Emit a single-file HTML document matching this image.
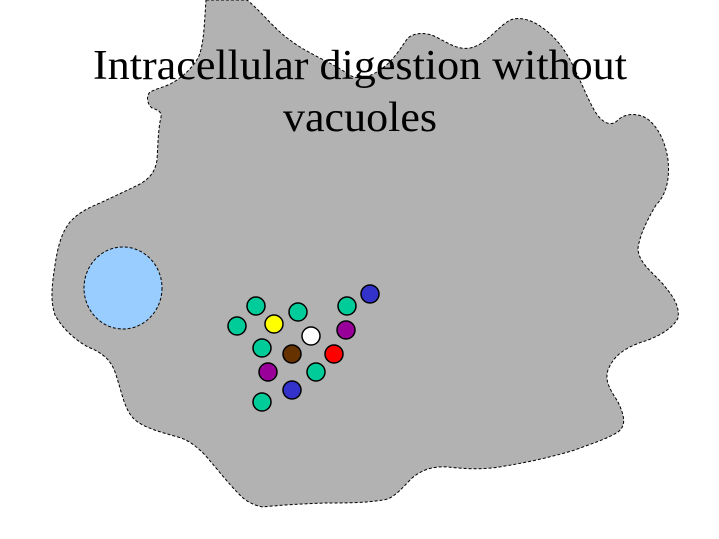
<!DOCTYPE html>
<html><head><style>html,body{margin:0;padding:0;background:#fff;}svg{display:block}</style></head>
<body>
<svg width="719" height="539" viewBox="0 0 719 539" xmlns="http://www.w3.org/2000/svg">
<path d="M206,0 L247,0 C260,10 275,30 290,40 C305,52 330,62 345,72 C355,80 365,80 380,70 C395,60 402,45 408,38 C415,32 428,32 438,38 C450,44 458,50 470,48 C485,45 495,30 507,22 C515,16 528,18 540,26 C555,36 566,50 575,70 C585,90 592,110 600,118 C606,124 612,126 618,120 C625,113 640,112 650,121 C660,130 666,145 668,160 C670,180 666,195 656,205 C646,222 640,235 638,248 C638,262 652,272 662,283 C672,295 680,305 678,318 C672,330 655,338 642,342 C625,348 614,355 608,370 C604,382 612,392 618,402 C624,415 627,425 618,432 C605,440 590,444 575,450 C555,456 530,462 505,466 C485,470 465,469 448,467 C432,466 422,470 412,478 C404,486 398,494 388,499 C370,503 345,503 325,503 C300,504 280,505 263,507 C252,505 244,500 238,493 C228,483 218,470 205,455 C195,445 188,440 178,437 C160,432 145,428 135,420 C124,410 122,392 115,372 C110,358 100,352 88,347 C75,340 62,328 55,315 C50,300 52,285 55,265 C58,245 62,232 70,222 C78,213 88,208 100,203 C115,196 128,190 140,184 C150,178 155,172 157,160 C158,145 158,130 161,117 C162,112 158,110 152,108 C147,104 146,96 150,92 C158,88 165,87 172,83 C183,77 192,68 198,58 C203,48 204,30 205,15 Z" fill="#b2b2b2" stroke="#000" stroke-width="1" stroke-dasharray="3,2"/>
<ellipse cx="123" cy="288" rx="39" ry="41" fill="#99ccff" stroke="#000" stroke-width="1" stroke-dasharray="3,2"/>
<g stroke="#000" stroke-width="1.5">
<circle cx="256" cy="306" r="9" fill="#00cc99"/>
<circle cx="237" cy="326" r="9" fill="#00cc99"/>
<circle cx="274" cy="324" r="9" fill="#ffff00"/>
<circle cx="298" cy="312" r="9" fill="#00cc99"/>
<circle cx="347" cy="306" r="9" fill="#00cc99"/>
<circle cx="370" cy="294" r="9" fill="#3333cc"/>
<circle cx="311" cy="336" r="9" fill="#ffffff"/>
<circle cx="346" cy="330" r="9" fill="#990099"/>
<circle cx="262" cy="348" r="9" fill="#00cc99"/>
<circle cx="292" cy="354" r="9" fill="#663300"/>
<circle cx="334" cy="354" r="9" fill="#ff0000"/>
<circle cx="268" cy="372" r="9" fill="#990099"/>
<circle cx="316" cy="372" r="9" fill="#00cc99"/>
<circle cx="292" cy="390" r="9" fill="#3333cc"/>
<circle cx="262" cy="402" r="9" fill="#00cc99"/>
</g>
<g font-family="'Liberation Serif', serif" font-size="42" fill="#000">
<text x="93" y="79" textLength="534" lengthAdjust="spacingAndGlyphs">Intracellular digestion without</text>
<text x="283" y="131" textLength="154" lengthAdjust="spacingAndGlyphs">vacuoles</text>
</g>
</svg>
</body></html>
